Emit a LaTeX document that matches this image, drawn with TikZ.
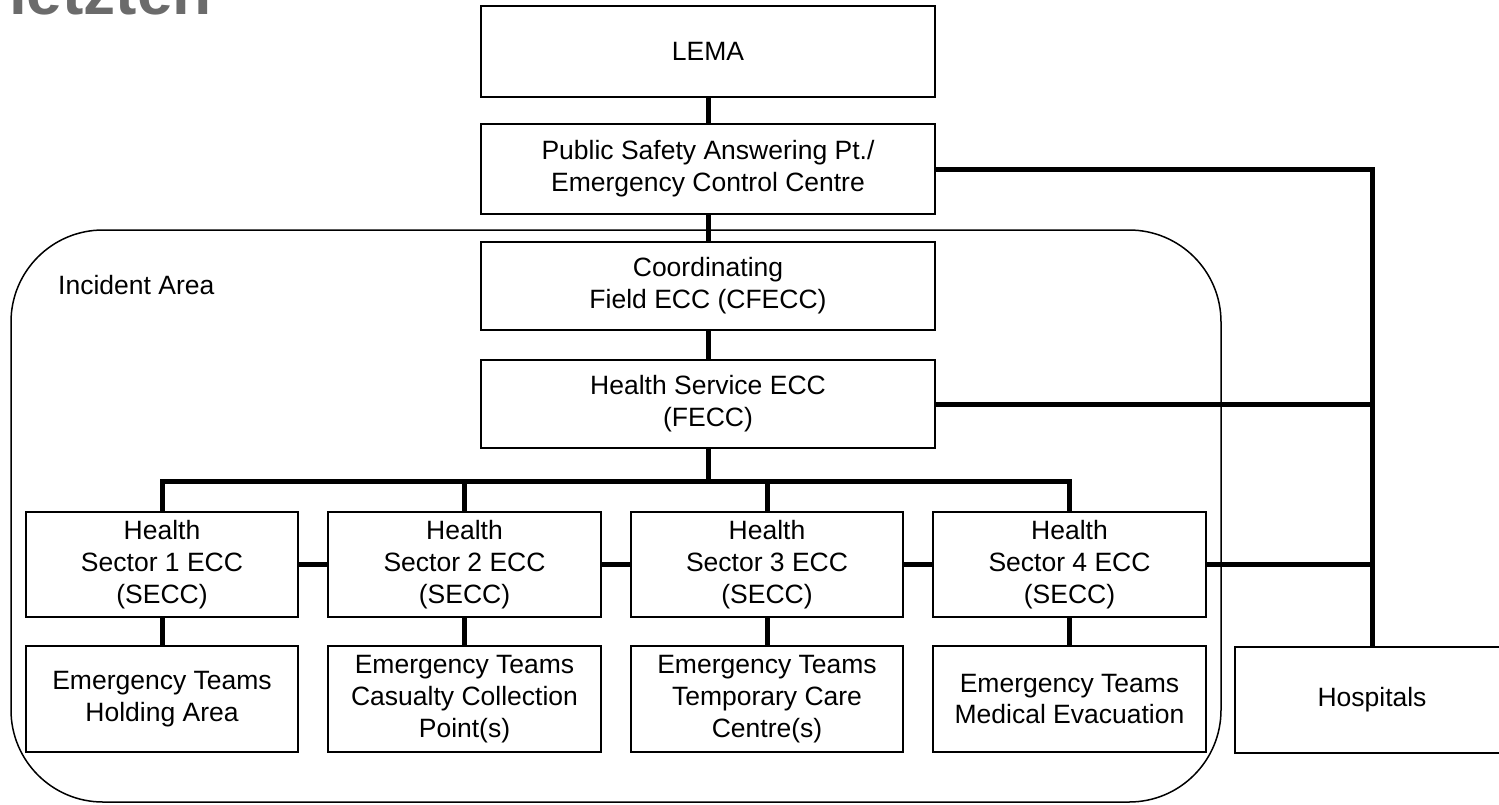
\documentclass[tikz,border=0pt]{standalone}
\usepackage{fontspec}
\setmainfont{Liberation Sans}
\begin{document}
\begin{tikzpicture}[x=1pt,y=-1pt,
  box/.style={draw, line width=2pt, fill=white, align=center, inner sep=0pt,
    font=\fontsize{26.5}{32}\selectfont},
  mainbox/.style={box, minimum width=454pt},
  secbox/.style={box, minimum width=272.5pt, minimum height=105pt},
  link/.style={line width=5pt},
  area/.style={draw, line width=1.5pt, rounded corners=92pt}]
\useasboundingbox (0,0) rectangle (1499,804);
\clip (0,0) rectangle (1499,804);
% faded title fragment
\node[anchor=base west, inner sep=0pt, text=black!58, font=\fontsize{64}{70}\selectfont\bfseries] (title) at (9,14.5) {letzten};
% incident area
\draw[area] (11,230) rectangle (1221,802);
\node[anchor=base west, inner sep=0pt, font=\fontsize{26.5}{32}\selectfont] (ialabel) at (58,294) {Incident Area};
% main column
\node[mainbox, minimum height=91pt] (lema) at (708,51.5) {LEMA};
\node[mainbox, minimum height=90pt] (psap) at (708,169) {Public Safety Answering Pt./\\Emergency Control Centre};
\node[mainbox, minimum height=88pt] (coord) at (708,286) {Coordinating\\Field ECC (CFECC)};
\node[mainbox, minimum height=88pt] (hsecc) at (708,404) {Health Service ECC\\(FECC)};
% sector row
\node[secbox] (s1) at (162,564.5) {Health\\Sector 1 ECC\\(SECC)};
\node[secbox] (s2) at (464.5,564.5) {Health\\Sector 2 ECC\\(SECC)};
\node[secbox] (s3) at (767,564.5) {Health\\Sector 3 ECC\\(SECC)};
\node[secbox] (s4) at (1069.5,564.5) {Health\\Sector 4 ECC\\(SECC)};
% team row
\node[secbox, minimum height=106pt] (e1) at (162,699) {Emergency Teams\\Holding Area};
\node[secbox, minimum height=106pt] (e2) at (464.5,699) {Emergency Teams\\Casualty Collection\\Point(s)};
\node[secbox, minimum height=106pt] (e3) at (767,699) {Emergency Teams\\Temporary Care\\Centre(s)};
\node[secbox, minimum height=106pt] (e4) at (1069.5,699) {Emergency Teams\\Medical Evacuation};
\node[box, minimum width=274pt, minimum height=106pt] (hosp) at (1372,699.5) {Hospitals};
% connectors
\coordinate (bus) at (0,481);
\draw[link] (lema.south) -- (psap.north);
\draw[link] (psap.south) -- (coord.north);
\draw[link] (coord.south) -- (hsecc.north);
\draw[link] (hsecc.south) -- (hsecc.south |- bus);
\draw[link] (s1.north) -- (s1.north |- bus) -- (s4.north |- bus) -- (s4.north);
\draw[link] (s2.north) -- (s2.north |- bus);
\draw[link] (s3.north) -- (s3.north |- bus);
\draw[link] (s1.east) -- (s2.west);
\draw[link] (s2.east) -- (s3.west);
\draw[link] (s3.east) -- (s4.west);
\draw[link] (s1.south) -- (e1.north);
\draw[link] (s2.south) -- (e2.north);
\draw[link] (s3.south) -- (e3.north);
\draw[link] (s4.south) -- (e4.north);
\draw[link] (psap.east) -| (hosp.north);
\draw[link] (hsecc.east) -- (hsecc.east -| hosp.north);
\draw[link] (s4.east) -- (s4.east -| hosp.north);
\end{tikzpicture}
\end{document}
